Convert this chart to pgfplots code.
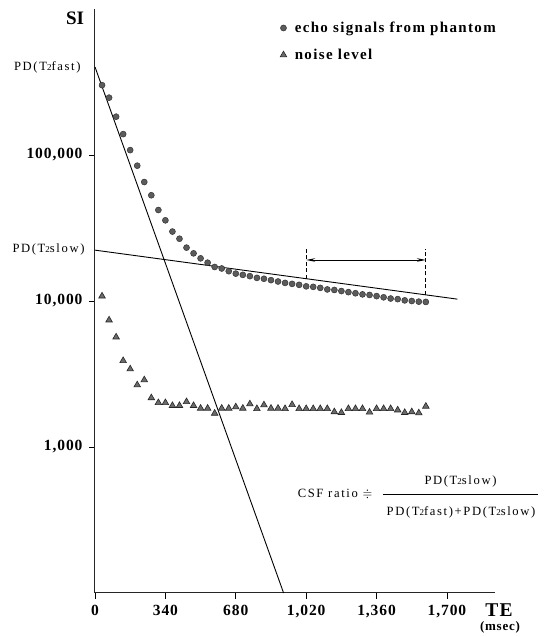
\documentclass[border=0pt]{standalone}
\usepackage{fontspec}
\usepackage{amssymb}
\setmainfont{Liberation Serif}
\newfontfamily\spf[LetterSpace=6]{Liberation Serif}
\newfontfamily\spg[LetterSpace=9]{Liberation Serif}
\newfontfamily\spl[LetterSpace=13]{Liberation Serif}
\usepackage{pgfplots}
\usepackage{pgfplotstable}
\pgfplotsset{compat=1.18}
\usetikzlibrary{arrows.meta}
\newcommand\two{{\fontsize{9}{9}\selectfont 2}}
\newcommand\tl{\spf\bfseries\fontsize{15.5}{15.5}\selectfont}
\pgfplotstableread{
t echo noise
34 301000 10800
68 247000 7400
102 183000 5660
136 139000 3900
170 108000 3420
204 84500 2660
238 65300 2880
272 53000 2170
306 42000 2010
340 35700 2010
374 29900 1920
408 26700 1920
442 23200 2040
476 21200 1920
510 19600 1840
544 18300 1840
578 17100 1700
612 16700 1840
646 16000 1840
680 15400 1880
714 15100 1840
748 14800 1970
782 14400 1830
816 14200 1940
850 13900 1840
884 13600 1840
918 13300 1830
952 13100 1950
986 12900 1830
1020 12600 1830
1054 12500 1830
1088 12300 1830
1122 12000 1830
1156 11900 1740
1190 11700 1720
1224 11500 1830
1258 11300 1830
1292 11100 1830
1326 11000 1730
1360 10800 1830
1394 10600 1830
1428 10400 1830
1462 10300 1790
1496 10100 1720
1530 10000 1740
1564 9900 1710
1598 9850 1900
}\data
\begin{document}
\begin{tikzpicture}[x=1pt,y=1pt]
\path[use as bounding box] (0,0) rectangle (544,637);
\begin{axis}[
  at={(95pt,44pt)}, anchor=south west,
  scale only axis, width=400pt, height=584pt,
  xmin=0, xmax=1932, ymode=log, ymin=100, ymax=1e6,
  axis lines*=left,
  axis line style={black!85, line width=1pt},
  xtick={0,340,680,1020,1360,1700},
  xticklabels={0,340,680,{1,020},{1,360},{1,700}},
  ytick={1000,10000,100000},
  yticklabels={{1,000},{10,000},{100,000}},
  xminorticks=false, yminorticks=false,
  tick align=outside, major tick length=6pt,
  tick style={black, line width=0.8pt},
  every tick label/.append style={font=\tl},
  yticklabel style={xshift=-3pt},
  xticklabel style={yshift=-3pt},
  clip=false,
  legend cell align=left,
  legend style={at={(0.455,0.985)}, anchor=north west, draw=none, fill=none,
    font=\spg\bfseries\fontsize{15}{15}\selectfont, row sep=11pt,
    /tikz/every odd column/.append style={column sep=6pt}},
]
\addplot[black, line width=0.9pt, forget plot] coordinates {(0,401000) (911,100)};
\addplot[black, line width=0.9pt, forget plot] coordinates {(0,22300) (1750,10300)};
\addplot[only marks, mark=*, mark size=3pt,
  mark options={fill=black!64, draw=black!80, line width=0.5pt}]
  table[x=t,y=echo]{\data};
\addlegendentry{echo signals from phantom}
\addplot[only marks, mark=triangle*, mark size=3.8pt,
  mark options={fill=black!58, draw=black!85, line width=0.6pt}]
  table[x=t,y=noise]{\data};
\addlegendentry{noise level}
\draw[dash pattern=on 4pt off 2.5pt, line width=0.7pt] (axis cs:1020,14220) -- (axis cs:1020,22600);
\draw[dash pattern=on 4pt off 2.5pt, line width=0.7pt] (axis cs:1598,11020) -- (axis cs:1598,22600);
\draw[{Stealth[length=9pt,width=3.5pt]}-{Stealth[length=9pt,width=3.5pt]}, line width=0.9pt]
  (axis cs:1020,19100) -- (axis cs:1598,19100);
\end{axis}
\node[font=\bfseries\fontsize{19}{19}\selectfont] at (75,619) {SI};
\node[anchor=east, font=\spl\fontsize{12.6}{12.6}\selectfont] at (84,570) {PD(T\two fast)};
\node[anchor=east, font=\spl\fontsize{12.6}{12.6}\selectfont] at (88,388) {PD(T\two slow)};
\node[font=\spf\bfseries\fontsize{19.5}{19.5}\selectfont] at (499,27) {TE};
\node[font=\spf\bfseries\fontsize{13}{13}\selectfont] at (500,9.5) {(msec)};
\node[anchor=east, font=\spl\fontsize{12.6}{12.6}\selectfont] at (376,143) {CSF ratio $\doteqdot$};
\node[font=\spl\fontsize{12.6}{12.6}\selectfont] at (460.5,155.5) {PD(T\two slow)};
\draw[line width=0.8pt] (383,143) -- (538,143);
\node[font=\spl\fontsize{12.6}{12.6}\selectfont] at (461,125) {PD(T\two fast)+PD(T\two slow)};
\end{tikzpicture}
\end{document}
